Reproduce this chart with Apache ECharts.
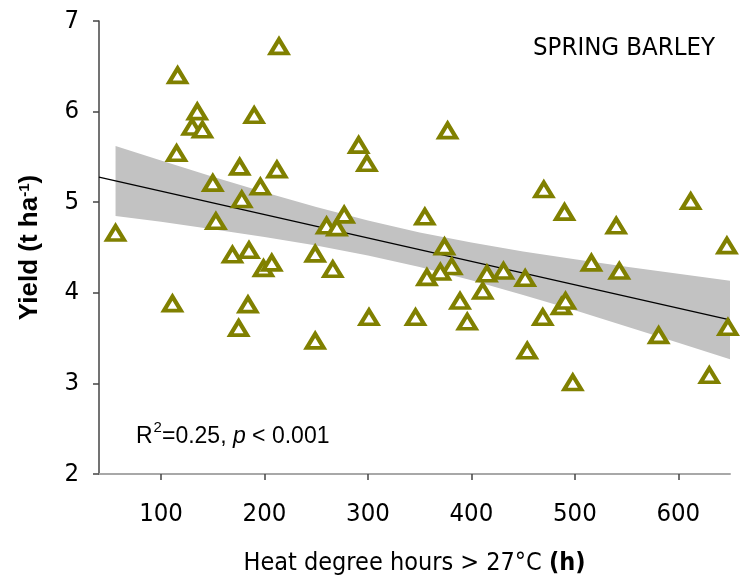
<!DOCTYPE html>
<html>
<head>
<meta charset="utf-8">
<script src="https://cdn.jsdelivr.net/npm/echarts@6/dist/echarts.min.js"></script>
<style>
html,body{margin:0;padding:0;background:#fff;}
#chart{width:741px;height:583px;}
</style>
</head>
<body>
<div id="chart"></div>
<script>
// Observed points: heat degree hours (>27°C) and spring barley yield (t/ha)
const heatHours = [56,116,115,135,130,140,190,214,150,176,178,196,212,153,169,185,199,207,111,184,175,249,301,291,299,377,355,277,260,270,249,266,374,381,370,357,415,431,411,389,346,396,470,490,540,612,647,452,516,543,487,491,469,581,648,454,498,630];
const yieldVals = [4.66,6.40,5.54,6.00,5.83,5.80,5.96,6.72,5.21,5.39,5.03,5.17,5.36,4.79,4.42,4.47,4.27,4.33,3.88,3.87,3.61,3.47,3.73,5.63,5.43,5.79,4.84,4.86,4.74,4.72,4.43,4.26,4.51,4.29,4.23,4.17,4.21,4.24,4.02,3.91,3.73,3.68,5.14,4.89,4.74,5.01,4.52,4.16,4.33,4.24,3.85,3.91,3.73,3.53,3.62,3.36,3.01,3.09];

// Regression line end points
const fitX = [40, 650];
const fitY = [5.277, 3.70];

// Confidence band
const bandX = [56,100,150,200,250,300,350,400,450,500,550,600,650];
const bandUpper = [5.621,5.461,5.282,5.110,4.947,4.798,4.666,4.554,4.457,4.369,4.287,4.209,4.134];
const bandLower = [4.849,4.783,4.702,4.616,4.521,4.412,4.284,4.138,3.977,3.807,3.629,3.449,3.266];

// Axis ticks
const xTicks = [100,200,300,400,500,600];

const FONT = "'DejaVu Sans Condensed','DejaVu Sans',sans-serif";
const ARIAL = "'Liberation Sans',Arial,sans-serif";

const chart = echarts.init(document.getElementById('chart'), null, {renderer:'canvas'});

const scatterData = heatHours.map((x,i)=>[x, yieldVals[i]]);
const fitData = fitX.map((x,i)=>[x, fitY[i]]);
const bandData = bandX.map((x,i)=>[x, bandUpper[i], bandLower[i]]);

chart.setOption({
  animation:false,
  backgroundColor:'#fff',
  grid:{left:99, right:11, top:21, bottom:109, containLabel:false},
  title:{
    text:'SPRING BARLEY',
    right:21, top:30,
    textStyle:{fontFamily:FONT, fontSize:25.5, fontWeight:'normal', color:'#000'}
  },
  graphic:[{
    type:'text',
    left:136, top:420,
    style:{
      text:'R{sup|2}=0.25, {it|p} < 0.001',
      font:"23px " + ARIAL,
      fill:'#000',
      rich:{
        sup:{fontSize:15, fontFamily:ARIAL, verticalAlign:'top', lineHeight:24, padding:[0,0,0,1]},
        it:{fontStyle:'italic', fontSize:23, fontFamily:ARIAL, lineHeight:34}
      }
    }
  }],
  xAxis:{
    type:'value', min:40, max:650,
    name:'Heat degree hours > 27°C {b|(h)}',
    nameLocation:'middle', nameGap:77,
    nameTextStyle:{fontFamily:FONT, fontSize:25, color:'#000',
      rich:{b:{fontFamily:FONT, fontSize:25, fontWeight:'bold', color:'#000'}}},
    axisLine:{show:true, onZero:false, lineStyle:{color:'#a8a8a8', width:2}},
    axisTick:{show:true, customValues:xTicks, length:6, lineStyle:{color:'#444', width:1.5}},
    axisLabel:{customValues:xTicks, fontFamily:FONT, fontSize:25.5, color:'#000', margin:27},
    splitLine:{show:false}
  },
  yAxis:{
    type:'value', min:2, max:7, interval:1,
    name:'Yield (t ha{sup|-1})',
    nameLocation:'middle', nameGap:56, nameRotate:90,
    nameTextStyle:{fontFamily:ARIAL, fontSize:26, fontWeight:'bold', color:'#000',
      rich:{sup:{fontFamily:ARIAL, fontSize:15, fontWeight:'bold', verticalAlign:'top', color:'#000'}}},
    axisLine:{show:true, onZero:false, lineStyle:{color:'#444', width:1.5}},
    axisTick:{show:true, length:6, lineStyle:{color:'#444', width:1.5}},
    axisLabel:{fontFamily:FONT, fontSize:25.5, color:'#000', margin:20},
    splitLine:{show:false}
  },
  series:[
    {
      type:'custom', z:1, silent:true,
      data:bandData,
      renderItem:function(params, api){
        if(params.dataIndex!==0) return null;
        const up = bandData.map(d=>api.coord([d[0], d[1]]));
        const lo = bandData.slice().reverse().map(d=>api.coord([d[0], d[2]]));
        return {type:'polygon', shape:{points:up.concat(lo), smooth:0}, style:{fill:'#c2c2c2', stroke:null}};
      }
    },
    {
      type:'line', z:2, data:fitData, symbol:'none', silent:true,
      lineStyle:{color:'#000', width:1.3}
    },
    {
      type:'scatter', z:3, data:scatterData,
      symbol:'triangle', symbolSize:[17,14],
      itemStyle:{color:'#fff', borderColor:'#808000', borderWidth:4, opacity:1}
    }
  ]
});
</script>
</body>
</html>
